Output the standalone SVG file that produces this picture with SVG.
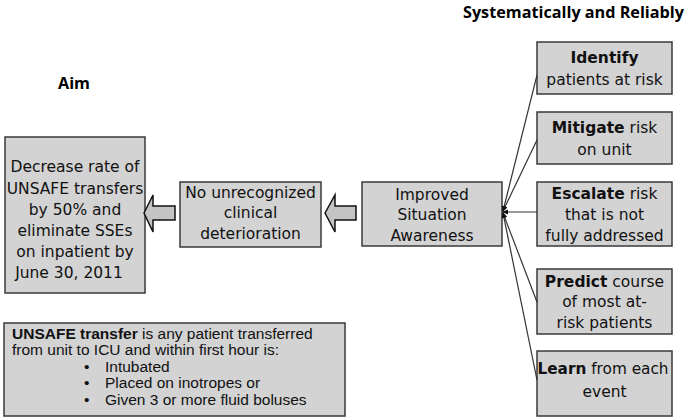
<svg xmlns="http://www.w3.org/2000/svg" width="685" height="419" viewBox="0 0 685 419">
<style>
.box{fill:#d3d3d3;stroke:#3a3a3a;stroke-width:1.5}
.t{font-family:"DejaVu Sans",Verdana,sans-serif;font-size:15.5px;fill:#111;text-anchor:middle}
.b{font-weight:bold}
.h{font-family:"Open Sans","DejaVu Sans",sans-serif;font-weight:bold;font-size:16.2px;fill:#000}
.u{font-family:"Liberation Sans",Arial,sans-serif;font-size:15.5px;fill:#111}
.blk{fill:#c4c4c4;stroke:#111;stroke-width:1.5;stroke-linejoin:miter}
.c{stroke:#333;stroke-width:1.2;fill:none;marker-end:url(#ah)}
</style>
<defs>
<marker id="ah" markerWidth="6" markerHeight="6" refX="5" refY="3" orient="auto" markerUnits="userSpaceOnUse">
<path d="M0,0.5 L6,3 L0,5.5 Z" fill="#111"/>
</marker>
</defs>
<rect width="685" height="419" fill="#fff"/>
<text class="h" x="463" y="18">Systematically and Reliably</text>
<text class="h" x="58" y="89" font-size="16.8px">Aim</text>

<g id="aim">
<rect class="box" x="5" y="137" width="140" height="156"/>
<text class="t" x="75" y="172">Decrease rate of</text>
<text class="t" x="75" y="194">UNSAFE transfers</text>
<text class="t" x="75" y="215">by 50% and</text>
<text class="t" x="75" y="236">eliminate SSEs</text>
<text class="t" x="75" y="257">on inpatient by</text>
<text class="t" x="69" y="278">June 30, 2011</text>
</g>

<g id="norecog">
<rect class="box" x="180" y="182" width="141" height="65"/>
<text class="t" x="250.5" y="198">No unrecognized</text>
<text class="t" x="250.5" y="218">clinical</text>
<text class="t" x="250.5" y="239">deterioration</text>
</g>

<g id="improved">
<rect class="box" x="362" y="182" width="140" height="64"/>
<text class="t" x="432" y="200">Improved</text>
<text class="t" x="432" y="220">Situation</text>
<text class="t" x="432" y="241">Awareness</text>
</g>

<g id="identify">
<rect class="box" x="537" y="42" width="135" height="52"/>
<text class="t" x="604.5" y="63"><tspan class="b">Identify</tspan></text>
<text class="t" x="604.5" y="85">patients at risk</text>
</g>

<g id="mitigate">
<rect class="box" x="537" y="112" width="135" height="52"/>
<text class="t" x="604.5" y="133"><tspan class="b">Mitigate</tspan> risk</text>
<text class="t" x="604.5" y="155">on unit</text>
</g>

<g id="escalate">
<rect class="box" x="537" y="182" width="135" height="64"/>
<text class="t" x="604.5" y="199"><tspan class="b">Escalate</tspan> risk</text>
<text class="t" x="604.5" y="220">that is not</text>
<text class="t" x="604.5" y="241">fully addressed</text>
</g>

<g id="predict">
<rect class="box" x="537" y="269" width="135" height="65"/>
<text class="t" x="604.5" y="287"><tspan class="b">Predict</tspan> course</text>
<text class="t" x="604.5" y="307">of most at-</text>
<text class="t" x="604.5" y="328">risk patients</text>
</g>

<g id="learn">
<rect class="box" x="537" y="351" width="135" height="65"/>
<text class="t" x="603" y="374" textLength="131" lengthAdjust="spacingAndGlyphs"><tspan class="b">Learn</tspan> from each</text>
<text class="t" x="604.5" y="397">event</text>
</g>

<g id="definition">
<rect class="box" x="4" y="323" width="341" height="93"/>
<text class="u" x="12" y="339"><tspan font-weight="bold">UNSAFE transfer</tspan> is any patient transferred</text>
<text class="u" x="12" y="355">from unit to ICU and within first hour is:</text>
<text class="u" x="84" y="372">•</text><text class="u" x="105" y="372">Intubated</text>
<text class="u" x="84" y="388">•</text><text class="u" x="105" y="388">Placed on inotropes or</text>
<text class="u" x="84" y="405">•</text><text class="u" x="105" y="405">Given 3 or more fluid boluses</text>
</g>

<g id="connectors">
<path class="blk" d="M144,213 L153,195 L153,206 L175,206 L175,220 L153,220 L153,232 Z"/>
<path class="blk" d="M325,213 L335,195 L335,206 L356,206 L356,220 L335,220 L335,232 Z"/>
<line class="c" x1="537" y1="75" x2="503" y2="211"/>
<line class="c" x1="537" y1="140" x2="503" y2="211"/>
<line class="c" x1="537" y1="212" x2="503" y2="212"/>
<line class="c" x1="537" y1="302" x2="503" y2="213"/>
<line class="c" x1="537" y1="380" x2="503" y2="213"/>
</g>
</svg>
